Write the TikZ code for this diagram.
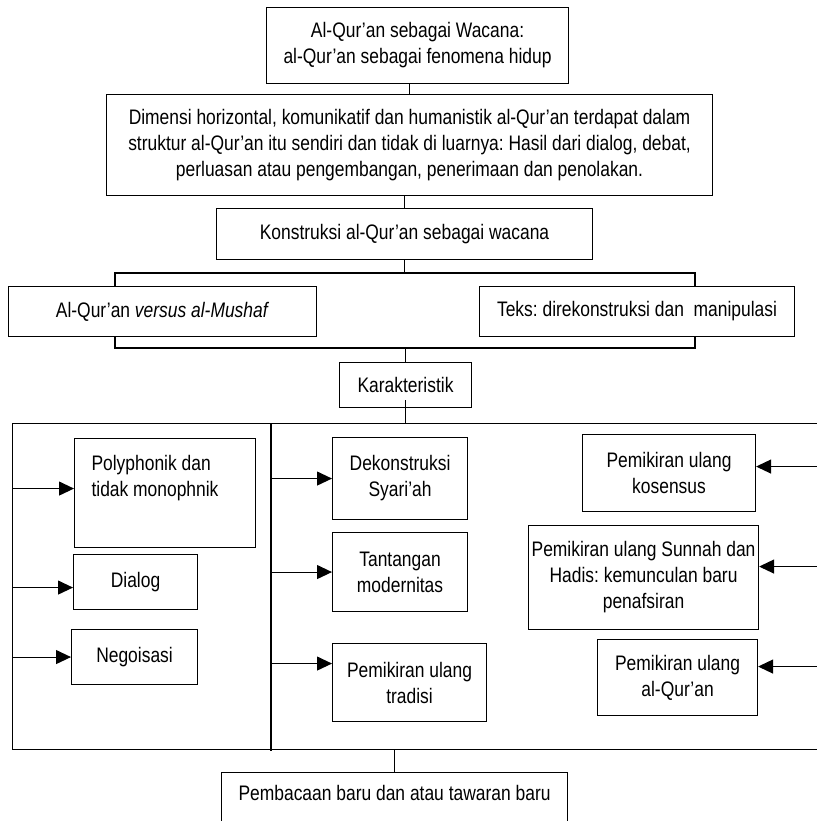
\documentclass[tikz,border=0pt]{standalone}
\usepackage{fontspec}
\setmainfont[FakeStretch=0.83]{Liberation Sans}
\usetikzlibrary{arrows.meta}
\frenchspacing

\begin{document}
\begin{tikzpicture}[x=1pt, y=-1pt, line width=1.1pt, every node/.style={font=\fontsize{21}{26}\selectfont}, >={Triangle[length=15pt, width=14pt]}, kotak/.style={draw, anchor=north west, align=center, inner sep=2pt}]
	\useasboundingbox (0,0) rectangle (816,821);
	% bagian atas
	\node[kotak, minimum width=302pt, minimum height=76pt] (a) at (266,7) {Al-Qur’an sebagai Wacana:\\ al-Qur’an sebagai fenomena hidup};
	\node[kotak, minimum width=606pt, minimum height=101pt] (b) at (106,94) {Dimensi horizontal, komunikatif dan humanistik al-Qur’an terdapat dalam\\ struktur al-Qur’an itu sendiri dan tidak di luarnya: Hasil dari dialog, debat,\\ perluasan atau pengembangan, penerimaan dan penolakan.};
	\node[kotak, minimum width=376pt, minimum height=51pt] (c) at (216,208) {Konstruksi al-Qur’an sebagai wacana};
	\node[kotak, minimum width=308pt, minimum height=50pt] (d) at (8,286) {Al-Qur’an \textit{versus al-Mushaf}};
	\node[kotak, minimum width=315pt, minimum height=50pt] (e) at (479,286) {Teks: direkonstruksi dan~ manipulasi};
	\node[kotak, minimum width=132pt, minimum height=45pt] (k) at (339,362) {Karakteristik};
	\draw (b.north) -- (b.north |- a.south);
	\draw (b.south -| c.north) -- (c.north);
	\coordinate (ki1) at (115,273);
	\coordinate (ka1) at (695,273);
	\coordinate (ki2) at (115,348);
	\coordinate (ka2) at (695,348);
	\draw (c.south) -- (c.south |- ki1);
	\draw (ki1 |- d.north) -- (ki1) -- (ka1) -- (ka1 |- e.north);
	\draw (ki2 |- d.south) -- (ki2) -- (ka2) -- (ka2 |- e.south);
	\draw (k.north |- ki2) -- (k.north);
	% bingkai karakteristik
	\node[draw, anchor=north west, minimum width=818pt, minimum height=326pt, inner sep=0pt] (bingkai) at (12,423) {};
	\coordinate (sekat) at (271,423);
	\draw (sekat) -- ++(0,328);
	\draw ([yshift=8pt]k.south) -- (k.south |- bingkai.north);
	% kolom kiri
	\node[kotak, align=flush left, text width=147pt, inner xsep=17pt, inner ysep=16.5pt, text height=15pt, text depth=61pt] (poly) at (74,438) {Polyphonik dan\\ tidak monophnik};
	\node[kotak, minimum width=124pt, minimum height=55pt] (dia) at (73,554) {Dialog};
	\node[kotak, minimum width=126pt, minimum height=55pt] (neg) at (71,629) {Negoisasi};
	\draw[->] ([yshift=4.5pt]bingkai.west |- poly.west) -- ([yshift=4.5pt]poly.west);
	\draw[->] ([yshift=-5.5pt]bingkai.west |- dia.west) -- ([yshift=-5.5pt]dia.west);
	\draw[->] (bingkai.west |- neg.west) -- (neg.west);
	% kolom tengah
	\node[kotak, minimum width=135pt, minimum height=82pt] (dek) at (332,437) {Dekonstruksi\\ Syari’ah};
	\node[kotak, minimum width=135pt, minimum height=79pt] (tan) at (332,532) {Tantangan\\ modernitas};
	\node[kotak, minimum width=154pt, minimum height=78pt] (tra) at (332,643) {Pemikiran ulang\\ tradisi};
	\draw[->] (sekat |- dek.west) -- (dek.west);
	\draw[->] (sekat |- tan.west) -- (tan.west);
	\draw[->] ([yshift=19pt]sekat |- tra.west) -- ([yshift=19pt]tra.west);
	% kolom kanan
	\node[kotak, minimum width=173pt, minimum height=77pt] (kos) at (582,434) {Pemikiran ulang\\ kosensus};
	\node[kotak, minimum width=230pt, minimum height=104pt] (sun) at (528,525) {Pemikiran ulang Sunnah dan\\ Hadis: kemunculan baru\\ penafsiran};
	\node[kotak, minimum width=160pt, minimum height=76pt] (alq) at (597,639) {Pemikiran ulang\\ al-Qur’an};
	\draw[->] ([yshift=6.5pt]bingkai.east |- kos.east) -- ([yshift=6.5pt]kos.east);
	\draw[->] ([yshift=11pt]bingkai.east |- sun.east) -- ([yshift=11pt]sun.east);
	\draw[->] ([yshift=11pt]bingkai.east |- alq.east) -- ([yshift=11pt]alq.east);
	% bagian bawah
	\node[kotak, minimum width=346pt, inner ysep=12.5pt, text height=15pt, text depth=30pt] (pb) at (221,772) {Pembacaan baru dan atau tawaran baru};
	\draw (pb.north |- bingkai.south) -- (pb.north);
\end{tikzpicture}
\end{document}
